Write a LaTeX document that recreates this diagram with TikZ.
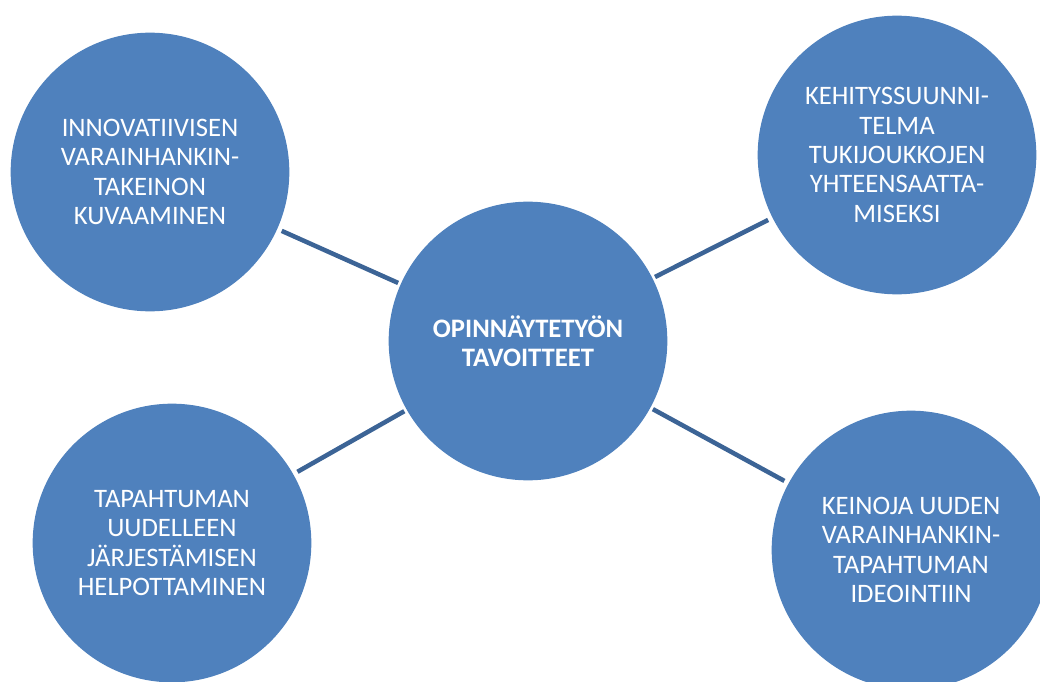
\documentclass[tikz,border=0pt]{standalone}
\usepackage{fontspec}
\setmainfont{Carlito}
\definecolor{goalfill}{HTML}{4F81BD}
\definecolor{goalline}{HTML}{3C6496}
\begin{document}
\begin{tikzpicture}[x=0.75pt, y=-0.75pt,
  goal/.style={circle, fill=goalfill, minimum size=209pt, inner sep=0pt,
    align=center, text=white, font=\fontsize{20pt}{22pt}\selectfont},
  link/.style={draw=goalline, line width=3.4pt, shorten <=2pt, shorten >=3.5pt}]
  \useasboundingbox (0,0) rectangle (1040,682);
  % goals around the middle
  \node[goal] (tl) at (150,172) {INNOVATIIVISEN\\VARAINHANKIN-\\TAKEINON\\KUVAAMINEN};
  \node[goal] (tr) at (897,155) {KEHITYSSUUNNI-\\TELMA\\TUKIJOUKKOJEN\\YHTEENSAATTA-\\MISEKSI};
  \node[goal] (bl) at (172,543) {TAPAHTUMAN\\UUDELLEEN\\JÄRJESTÄMISEN\\HELPOTTAMINEN};
  \node[goal] (br) at (911,550) {KEINOJA UUDEN\\VARAINHANKIN-\\TAPAHTUMAN\\IDEOINTIIN};
  \node[goal, font=\fontsize{20pt}{22pt}\selectfont\bfseries] (c) at (528,341)
    {OPINNÄYTETYÖN\\TAVOITTEET};
  \foreach \n in {tl,tr,bl,br}
    \draw[link] (c) -- (\n);
\end{tikzpicture}
\end{document}
